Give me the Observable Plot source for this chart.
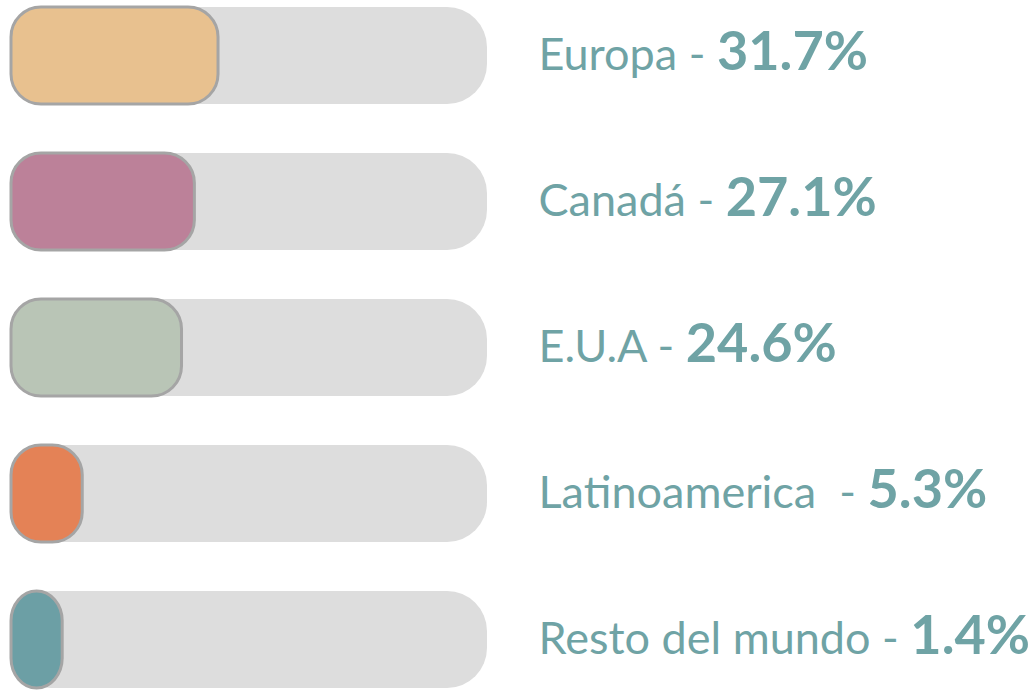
<!DOCTYPE html>
<html>
<head>
<meta charset="utf-8">
<script src="https://cdn.jsdelivr.net/npm/d3@7"></script>
<script src="https://cdn.jsdelivr.net/npm/@observablehq/plot@0.6"></script>
<style>
  html, body { margin: 0; padding: 0; background: #fff; }
  #chart svg { display: block; }
</style>
</head>
<body>
<div id="chart"></div>
<script>
const regions = ["Europa", "Canadá", "E.U.A", "Latinoamerica ", "Resto del mundo"];
const shares = [31.7, 27.1, 24.6, 5.3, 1.4];
const palette = ["#e8c18f", "#bc8199", "#b9c5b6", "#e48256", "#6c9fa5"];
const trackMax = 84;

const data = regions.map((r, i) => ({region: r, share: shares[i]}));

const chart = Plot.plot({
  width: 1032,
  height: 690,
  marginLeft: 55,
  marginRight: 545,
  marginTop: 6.5,
  marginBottom: 1.5,
  x: {domain: [0, trackMax], axis: null},
  y: {type: "band", domain: regions, paddingInner: 0.337, paddingOuter: 0, axis: null},
  color: {domain: regions, range: palette},
  style: {fontFamily: "Lato, sans-serif", background: "white"},
  marks: [
    Plot.barX(data, {x1: 0, x2: () => trackMax, y: "region", fill: "#dddddd", rx: 40, insetLeft: -44}),
    Plot.barX(data, {x1: 0, x2: "share", y: "region", fill: "region", stroke: "#a5a5a5", strokeWidth: 3, rx: 30, insetLeft: -44}),
    Plot.text(data, {x: () => trackMax, y: "region", text: d => d.region + " - " + d.share + "%", textAnchor: "start", dx: 51, fill: "#6fa3a5", fontSize: 45})
  ]
});

document.getElementById("chart").appendChild(chart);

d3.select(chart).selectAll('g[aria-label="text"] text').each(function(_, i) {
  const t = d3.select(this);
  t.text(null).style("white-space", "pre");
  t.append("tspan").text(regions[i] + " - ");
  t.append("tspan").attr("font-weight", "bold").attr("font-size", 54).text(shares[i] + "%");
});
</script>
</body>
</html>
